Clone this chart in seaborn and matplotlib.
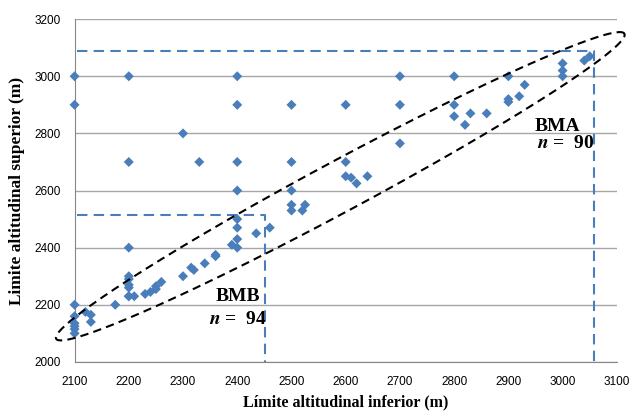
import numpy as np
import pandas as pd
import matplotlib
matplotlib.use("Agg")
import matplotlib.pyplot as plt
import seaborn as sns

# limite inferior / superior (m)
lim_inf = [2100, 2100, 2100, 2100, 2100, 2100, 2100, 2100, 2120, 2130, 2130, 2175,
           2200, 2200, 2200, 2200, 2200, 2200, 2200, 2200, 2200, 2210,
           2230, 2240, 2250, 2250, 2260, 2300, 2300, 2315, 2320, 2330, 2340,
           2360, 2360, 2390, 2400, 2400, 2400, 2400, 2400, 2400, 2400, 2400,
           2435, 2460, 2500, 2500, 2500, 2500, 2500, 2520, 2525,
           2600, 2600, 2600, 2610, 2620, 2640, 2700, 2700, 2700,
           2800, 2800, 2800, 2820, 2830, 2860, 2900, 2900, 2900, 2920, 2930,
           3000, 3000, 3000, 3040, 3050]
lim_sup = [3000, 2900, 2200, 2160, 2135, 2125, 2115, 2100, 2175, 2165, 2140, 2200,
           3000, 2700, 2400, 2300, 2290, 2270, 2260, 2230, 2230, 2230,
           2238, 2245, 2255, 2265, 2280, 2800, 2300, 2330, 2322, 2700, 2345,
           2375, 2370, 2410, 3000, 2900, 2700, 2600, 2500, 2470, 2430, 2400,
           2450, 2470, 2900, 2700, 2600, 2550, 2530, 2530, 2550,
           2900, 2700, 2650, 2645, 2625, 2650, 3000, 2900, 2765,
           3000, 2900, 2860, 2830, 2870, 2870, 3000, 2920, 2910, 2930, 2970,
           3045, 3020, 3000, 3055, 3070]

df = pd.DataFrame({'inf': lim_inf, 'sup': lim_sup})

# caixas BMB / BMA (limites tracejados)
bmb_x, bmb_y = 2452, 2515
bma_x, bma_y = 3057, 3090

# elipse: centro, semi-eixo maior e menor (em unidades dos dados)
ell_c = (2590, 2615)
ell_u = (524, 534)
ell_v = (-22, 78)

sns.set_style("white")
plt.rcParams['font.family'] = ['Liberation Sans', 'DejaVu Sans']
plt.rcParams['mathtext.fontset'] = 'stix'

fig = plt.figure(figsize=(6.32, 4.16), dpi=100)
ax = fig.add_axes([0.118, 0.13, 0.858, 0.824])

ax.yaxis.grid(True, color='#a6a6a6', linewidth=1)
ax.set_axisbelow(True)

sns.scatterplot(data=df, x='inf', y='sup', marker='D', s=26, color='#4a7ebb',
                edgecolor='none', ax=ax, zorder=3, clip_on=False)

blue = '#4a7ebb'
ax.plot([2105, bmb_x, bmb_x], [bmb_y, bmb_y, 2000], '--', color=blue, lw=1.5, dashes=(5, 3))
ax.plot([2105, bma_x, bma_x], [bma_y, bma_y, 2000], '--', color=blue, lw=1.5, dashes=(5, 3))

t = np.linspace(0, 2 * np.pi, 400)
ex = ell_c[0] + ell_u[0] * np.cos(t) + ell_v[0] * np.sin(t)
ey = ell_c[1] + ell_u[1] * np.cos(t) + ell_v[1] * np.sin(t)
ax.plot(ex, ey, '--', color='black', lw=1.5, dashes=(4, 2.5), clip_on=False, zorder=4)

ax.set_xlim(2100, 3100)
ax.set_ylim(2000, 3200)
ax.set_xticks(range(2100, 3101, 100))
ax.set_yticks(range(2000, 3201, 200))
ax.tick_params(axis='both', labelsize=8.5, length=4, color='#868686',
               labelcolor='black', direction='out')
ax.tick_params(axis='y', pad=6)
ax.tick_params(axis='x', pad=6)
for s in ['top', 'right']:
    ax.spines[s].set_visible(False)
for s in ['left', 'bottom']:
    ax.spines[s].set_color('#868686')

serif = ['Liberation Serif', 'DejaVu Serif']
ax.set_xlabel('Límite altitudinal inferior (m)', fontsize=11.5, fontweight='bold',
              family=serif, labelpad=5, color='black')
ax.set_ylabel('Limite altitudinal superior (m)', fontsize=12.5, fontweight='bold',
              family=serif, labelpad=7, color='black')

fs = 14
ax.text(2401, 2228, 'BMB', fontsize=fs, fontweight='bold', family=serif,
        ha='center', va='center', color='black')
ax.text(2401, 2148, r'$\mathbfit{n}$ =  94', fontsize=fs, fontweight='bold',
        family=serif, ha='center', va='center', color='black')
ax.text(2990, 2823, 'BMA', fontsize=fs, fontweight='bold', family=serif,
        ha='center', va='center', color='black')
ax.text(3005, 2765, r'$\mathbfit{n}$ =  90', fontsize=fs, fontweight='bold',
        family=serif, ha='center', va='center', color='black')

fig.savefig('out.png', dpi=100)
